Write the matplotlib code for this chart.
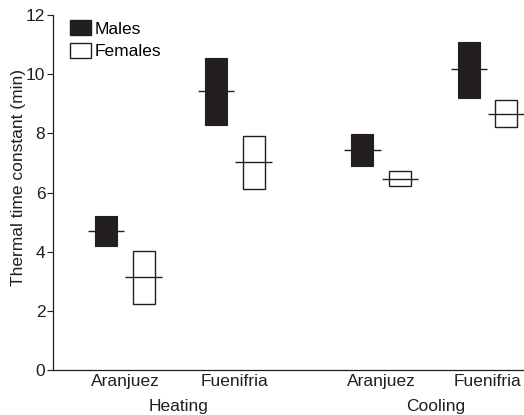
import numpy as np
import matplotlib
matplotlib.use('Agg')
import matplotlib.pyplot as plt
from matplotlib.patches import Patch

# Data (min, mean, max)
sites = ['Aranjuez', 'Fuenifria', 'Aranjuez', 'Fuenifria']
phases = ['Heating', 'Cooling']
male_low = [4.2, 8.28, 6.9, 9.18]
male_mean = [4.7, 9.43, 7.43, 10.16]
male_high = [5.2, 10.54, 7.97, 11.1]
female_low = [2.23, 6.11, 6.22, 8.2]
female_mean = [3.14, 7.03, 6.45, 8.65]
female_high = [4.02, 7.9, 6.72, 9.12]

dark = '#231f20'
fs = 12.5
pos = np.array([1.0, 2.0, 3.33, 4.3])
off = 0.17
bw = 0.2
mw = 0.33

fig = plt.figure(figsize=(5.24, 4.15), dpi=100)
plt.rcParams['font.family'] = ['Liberation Sans', 'DejaVu Sans']
ax = fig.add_axes([0.101, 0.108, 0.899, 0.856])

# Males
ax.bar(pos - off, np.array(male_high) - np.array(male_low), bottom=male_low,
       width=bw, color=dark, edgecolor=dark, linewidth=0.8)
# Females
ax.bar(pos + off, np.array(female_high) - np.array(female_low), bottom=female_low,
       width=bw, color='white', edgecolor=dark, linewidth=1.0)
# means
ax.hlines(male_mean, pos - off - mw / 2, pos - off + mw / 2, color=dark, lw=1.0)
ax.hlines(female_mean, pos + off - mw / 2, pos + off + mw / 2, color=dark, lw=1.0)

ax.set_xlim(0.345, 4.63)
ax.set_ylim(0, 12)
ax.set_yticks(range(0, 13, 2))
ax.set_xticks(pos)
ax.set_xticklabels(sites, fontsize=fs, color=dark)
ax.tick_params(axis='x', length=0, pad=3)
ax.tick_params(axis='y', direction='out', length=4, width=0.8, pad=1.5,
               labelsize=fs, colors=dark)
for s in ['top', 'right']:
    ax.spines[s].set_visible(False)
for s in ['left', 'bottom']:
    ax.spines[s].set_linewidth(0.9)
    ax.spines[s].set_color(dark)
ax.set_ylabel('Thermal time constant (min)', fontsize=fs, color=dark)
ax.yaxis.set_label_coords(-0.058, 0.542)

# phase labels under the site labels
for x, lab in zip([1.49, 3.83], phases):
    ax.text(x, -0.082, lab, transform=ax.get_xaxis_transform(),
            ha='center', va='top', fontsize=fs, color=dark)

handles = [Patch(facecolor=dark, edgecolor=dark, label='Males'),
           Patch(facecolor='white', edgecolor=dark, label='Females')]
ax.legend(handles=handles, loc='upper left', bbox_to_anchor=(0.025, 1.0),
          frameon=False, fontsize=fs, handlelength=1.2, handleheight=0.95,
          handletextpad=0.25, labelspacing=0.35, borderaxespad=0.2,
          borderpad=0.1)

fig.savefig('out.png', dpi=100)
